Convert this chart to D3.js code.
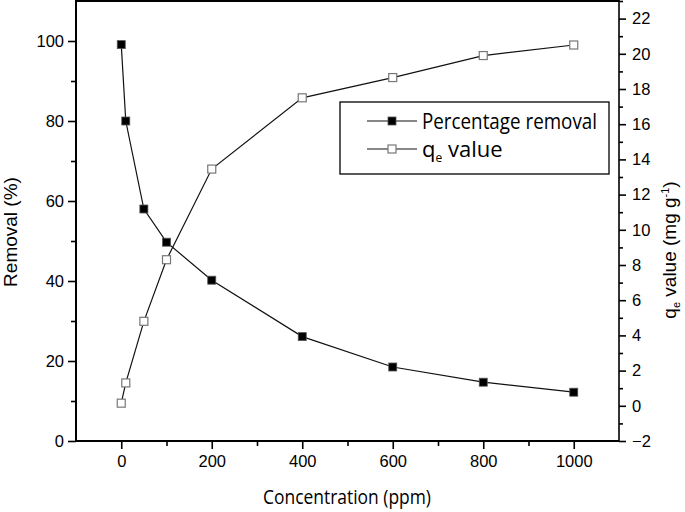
<!DOCTYPE html>
<html><head><meta charset="utf-8">
<script src="https://cdn.jsdelivr.net/npm/d3@7"></script>
<style>body{margin:0;background:#fff}svg{display:block}</style>
</head><body>
<svg id="c" width="685" height="512"></svg>
<script>
const concentration = [0, 10, 50, 100, 200, 400, 600, 800, 1000];
const removal = [99.1, 80, 58, 49.7, 40.2, 26.1, 18.5, 14.7, 12.2];
const qeValue = [0.15, 1.3, 4.8, 8.3, 13.45, 17.5, 18.65, 19.9, 20.5];
const xTicks = [0, 200, 400, 600, 800, 1000];
const xMinor = [100, 300, 500, 700, 900];
const leftTicks = [0, 20, 40, 60, 80, 100];
const leftMinor = [10, 30, 50, 70, 90];
const rightTicks = [-2, 0, 2, 4, 6, 8, 10, 12, 14, 16, 18, 20, 22];
const rightMinor = [-1, 1, 3, 5, 7, 9, 11, 13, 15, 17, 19, 21, 23];
const seriesNames = ["Percentage removal", "value"];

const svg = d3.select("#c");
const L = 76, R = 619, T = 1, B = 441;
const x = d3.scaleLinear().domain([-100, 1100]).range([L, R]);
const yL = d3.scaleLinear().domain([0, 110]).range([B, T]);
const yR = d3.scaleLinear().domain([-2, 23]).range([B, T]);
const tickFont = "'Liberation Sans', Arial, sans-serif";

function styleAxis(g) {
  g.select(".domain").remove();
  g.selectAll(".tick line").attr("stroke", "#000").attr("stroke-width", 1.6);
  g.selectAll(".tick text").attr("font-family", tickFont).attr("font-size", 16.5).attr("fill", "#000");
}
// bottom
svg.append("g").attr("transform", `translate(0,${B})`)
  .call(d3.axisBottom(x).tickValues(xTicks).tickSize(8).tickPadding(6).tickFormat(d3.format("d")))
  .call(styleAxis);
svg.append("g").attr("transform", `translate(0,${B})`)
  .call(d3.axisBottom(x).tickValues(xMinor).tickSize(5).tickFormat(""))
  .call(styleAxis);
// left
svg.append("g").attr("transform", `translate(${L},0)`)
  .call(d3.axisLeft(yL).tickValues(leftTicks).tickSize(8).tickPadding(4).tickFormat(d3.format("d")))
  .call(styleAxis);
svg.append("g").attr("transform", `translate(${L},0)`)
  .call(d3.axisLeft(yL).tickValues(leftMinor).tickSize(5).tickFormat(""))
  .call(styleAxis);
// right
svg.append("g").attr("transform", `translate(${R},0)`)
  .call(d3.axisRight(yR).tickValues(rightTicks).tickSize(7).tickPadding(6).tickFormat(d3.format("d")))
  .call(styleAxis);
svg.append("g").attr("transform", `translate(${R},0)`)
  .call(d3.axisRight(yR).tickValues(rightMinor).tickSize(4).tickFormat(""))
  .call(styleAxis);

// frame
svg.append("line").attr("x1", L).attr("x2", R).attr("y1", B).attr("y2", B).attr("stroke", "#000").attr("stroke-width", 2);
svg.append("line").attr("x1", L).attr("x2", R).attr("y1", T).attr("y2", T).attr("stroke", "#000").attr("stroke-width", 2);
svg.append("line").attr("x1", L).attr("x2", L).attr("y1", 0).attr("y2", B + 1).attr("stroke", "#000").attr("stroke-width", 2);
svg.append("line").attr("x1", R).attr("x2", R).attr("y1", 0).attr("y2", B + 1).attr("stroke", "#000").attr("stroke-width", 1.6);

// lines
const remData = concentration.map((c, i) => [c, removal[i]]);
const qeData = concentration.map((c, i) => [c, qeValue[i]]);
svg.append("path").datum(remData)
  .attr("d", d3.line().x(d => x(d[0])).y(d => yL(d[1])))
  .attr("fill", "none").attr("stroke", "#111").attr("stroke-width", 1.2);
svg.append("path").datum(qeData)
  .attr("d", d3.line().x(d => x(d[0])).y(d => yR(d[1])))
  .attr("fill", "none").attr("stroke", "#111").attr("stroke-width", 1.2);
const ms = 8;
svg.selectAll(".mr").data(remData).enter().append("rect")
  .attr("x", d => x(d[0]) - ms / 2).attr("y", d => yL(d[1]) - ms / 2)
  .attr("width", ms).attr("height", ms).attr("fill", "#000").attr("stroke", "#555").attr("stroke-width", 0.8);
svg.selectAll(".mq").data(qeData).enter().append("rect")
  .attr("x", d => x(d[0]) - ms / 2).attr("y", d => yR(d[1]) - ms / 2)
  .attr("width", ms).attr("height", ms).attr("fill", "#fff").attr("stroke", "#777").attr("stroke-width", 1.2);

// legend
const lg = svg.append("g");
lg.append("rect").attr("x", 340).attr("y", 102).attr("width", 269).attr("height", 72)
  .attr("fill", "#fff").attr("stroke", "#000").attr("stroke-width", 1.3);
const legFont = "'Open Sans', 'Noto Sans', sans-serif";
[[121, true], [149, false]].forEach(([yy, filled]) => {
  lg.append("line").attr("x1", 367).attr("x2", 417).attr("y1", yy).attr("y2", yy).attr("stroke", "#111").attr("stroke-width", 1.2);
  lg.append("rect").attr("x", 392 - ms / 2).attr("y", yy - ms / 2).attr("width", ms).attr("height", ms)
    .attr("fill", filled ? "#000" : "#fff").attr("stroke", filled ? "#555" : "#777").attr("stroke-width", filled ? 0.8 : 1.2);
});
lg.append("text").attr("x", 422).attr("y", 129).attr("font-family", legFont).attr("font-size", 22)
  .attr("textLength", 175).attr("lengthAdjust", "spacingAndGlyphs").text(seriesNames[0]);
const t2 = lg.append("text").attr("x", 422).attr("y", 157).attr("font-family", legFont).attr("font-size", 22);
t2.append("tspan").text("q");
t2.append("tspan").attr("font-size", 12).attr("dy", 5).text("e");
t2.append("tspan").attr("dy", -5).text(" " + seriesNames[1]);

// axis titles
svg.append("text").attr("x", 347).attr("y", 504).attr("text-anchor", "middle")
  .attr("font-family", legFont).attr("font-size", 20).attr("textLength", 168).attr("lengthAdjust", "spacingAndGlyphs")
  .text("Concentration (ppm)");
svg.append("text").attr("transform", "translate(17,232) rotate(-90)").attr("text-anchor", "middle")
  .attr("font-family", tickFont).attr("font-size", 19).text("Removal (%)");
const rt = svg.append("text").attr("transform", "translate(676,250) rotate(-90)").attr("text-anchor", "middle")
  .attr("font-family", tickFont).attr("font-size", 19);
rt.append("tspan").text("q");
rt.append("tspan").attr("font-size", 11).attr("dy", 4).text("e");
rt.append("tspan").attr("dy", -4).text(" value (mg g");
rt.append("tspan").attr("font-size", 11).attr("dy", -7).text("-1");
rt.append("tspan").attr("dy", 7).text(")");
</script>
</body></html>
